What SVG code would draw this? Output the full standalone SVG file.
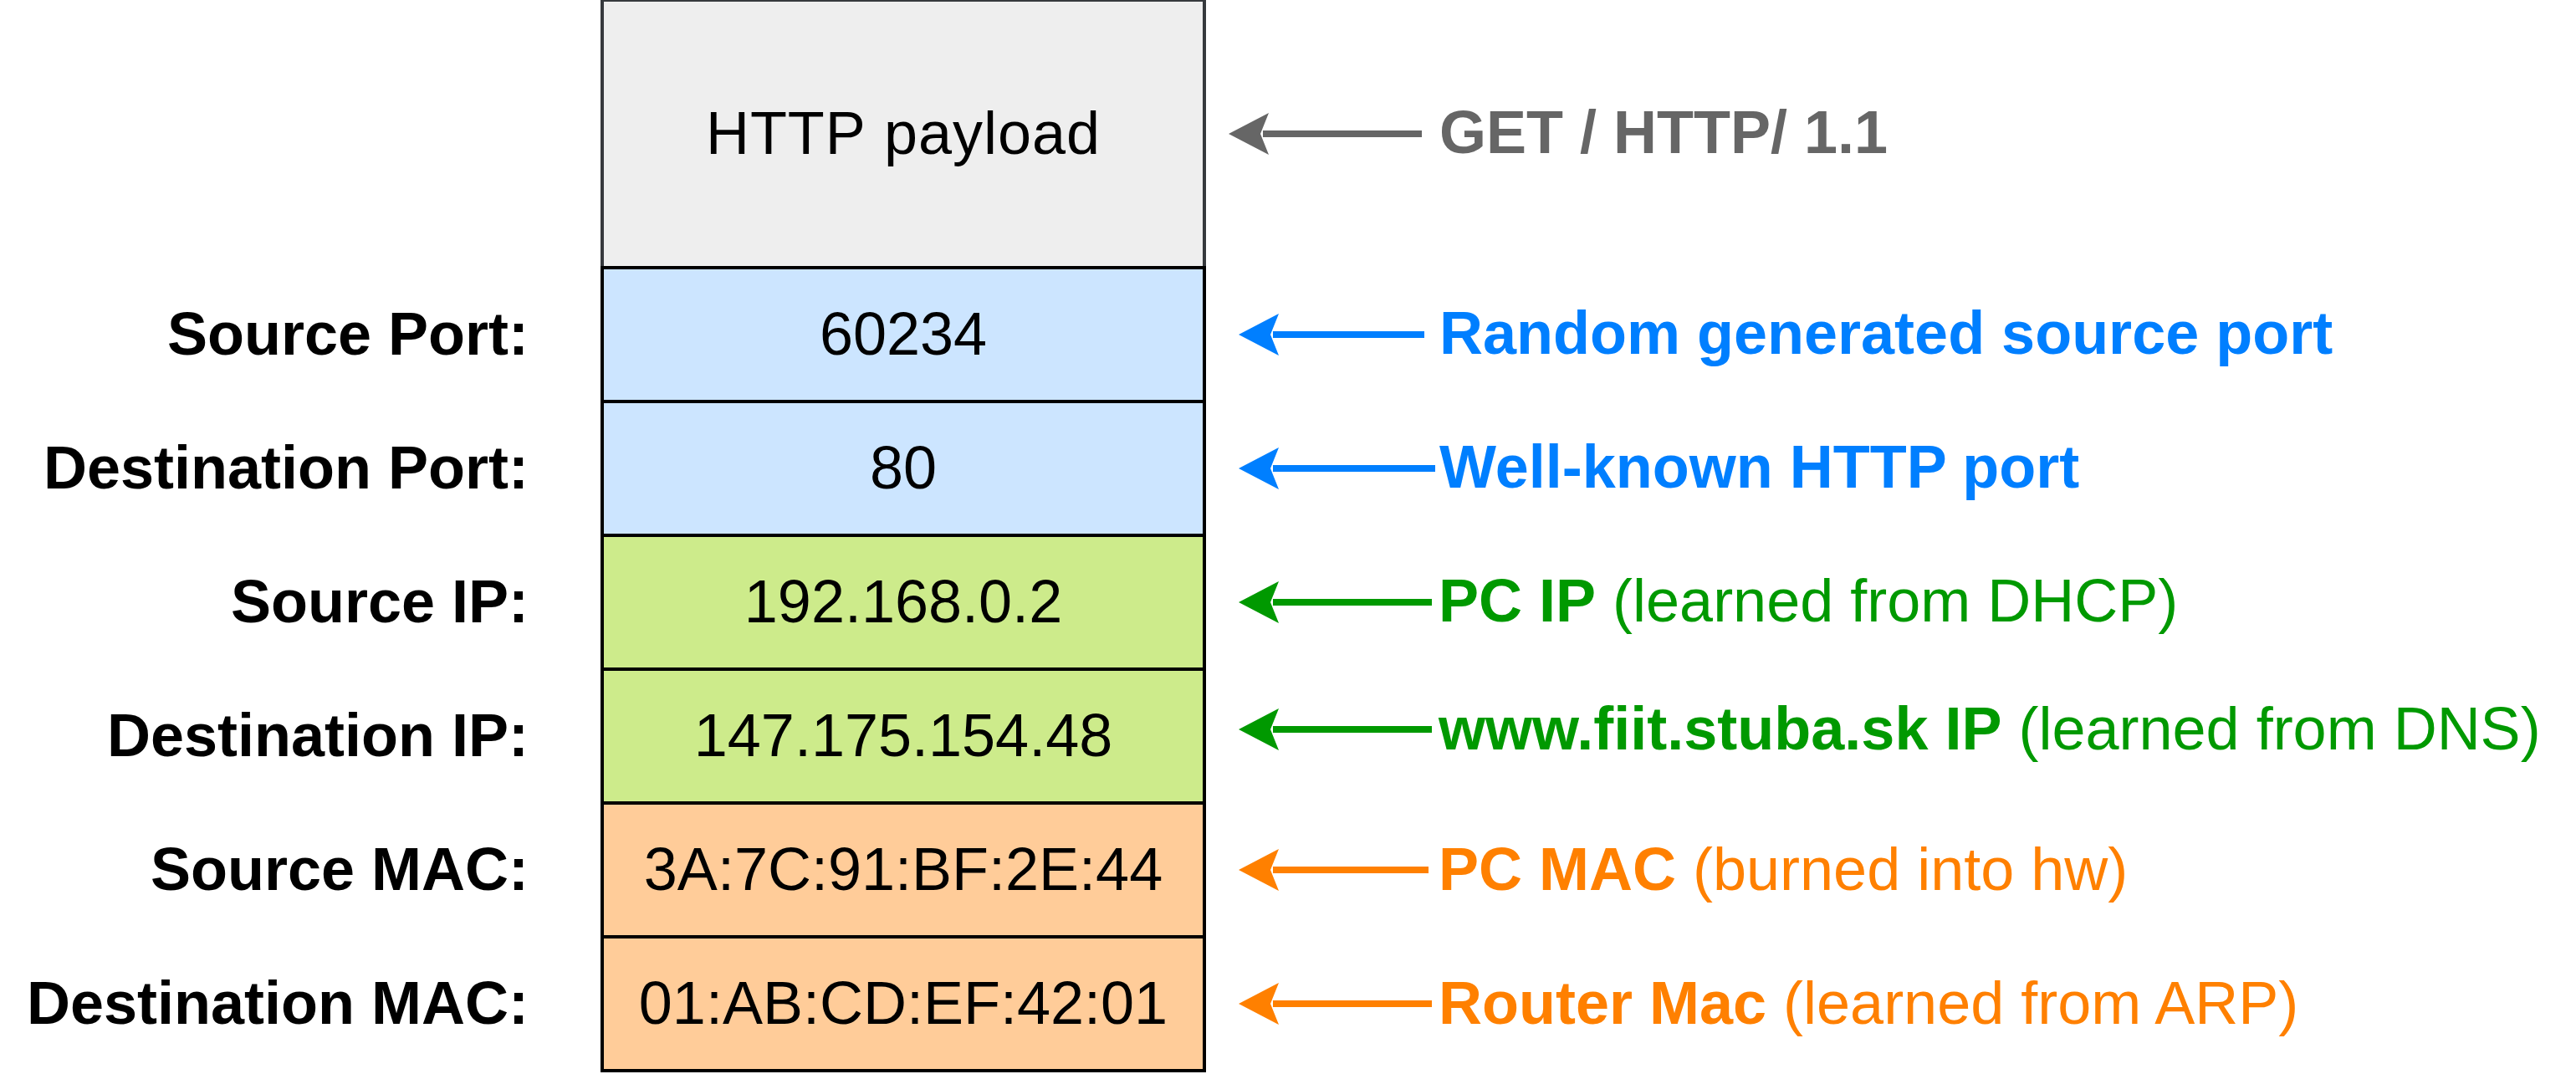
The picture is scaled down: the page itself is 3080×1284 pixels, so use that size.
<svg xmlns="http://www.w3.org/2000/svg" width="3080" height="1284" viewBox="0 0 3080 1284">
<style>
text{font-family:"Liberation Sans",Arial,Helvetica,sans-serif;font-size:72px}
.cell{stroke:#000;stroke-width:4}
.val{text-anchor:middle;fill:#000}
.lbl{text-anchor:end;font-weight:bold;fill:#000}
.b{font-weight:bold}
.grey{fill:#666666}.blue{fill:#007FFF}.green{fill:#009900}.orange{fill:#FF8000}
.lg{stroke:#666666}.lb{stroke:#007FFF}.lgr{stroke:#009900}.lo{stroke:#FF8000}
.conn line{stroke-width:8}
</style>
<rect width="3080" height="1284" fill="#ffffff"/>

<g id="payload">
<rect x="720" y="0" width="720" height="320" fill="#eeeeee" stroke="#36393d" stroke-width="4"/>
<text class="val" x="1080" y="184" style="font-kerning:none;letter-spacing:1px">HTTP payload</text>
</g>
<g id="src-port">
<rect class="cell" x="720" y="320" width="720" height="160" fill="#cce5ff"/>
<text class="val" x="1080" y="424">60234</text>
</g>
<g id="dst-port">
<rect class="cell" x="720" y="480" width="720" height="160" fill="#cce5ff"/>
<text class="val" x="1080" y="584">80</text>
</g>
<g id="src-ip">
<rect class="cell" x="720" y="640" width="720" height="160" fill="#cdeb8b"/>
<text class="val" x="1080" y="744">192.168.0.2</text>
</g>
<g id="dst-ip">
<rect class="cell" x="720" y="800" width="720" height="160" fill="#cdeb8b"/>
<text class="val" x="1080" y="904">147.175.154.48</text>
</g>
<g id="src-mac">
<rect class="cell" x="720" y="960" width="720" height="160" fill="#ffcc99"/>
<text class="val" x="1080" y="1064">3A:7C:91:BF:2E:44</text>
</g>
<g id="dst-mac">
<rect class="cell" x="720" y="1120" width="720" height="160" fill="#ffcc99"/>
<text class="val" x="1080" y="1224">01:AB:CD:EF:42:01</text>
</g>

<g id="labels">
<text class="lbl" x="632" y="424">Source Port:</text>
<text class="lbl" x="632" y="584">Destination Port:</text>
<text class="lbl" x="632" y="744">Source IP:</text>
<text class="lbl" x="632" y="904">Destination IP:</text>
<text class="lbl" x="632" y="1064">Source MAC:</text>
<text class="lbl" x="632" y="1224">Destination MAC:</text>
</g>

<g id="note-get"><text class="grey b" x="1721" y="183">GET / HTTP/ 1.1</text></g>
<g id="note-random"><text class="blue b" x="1721" y="423">Random generated source port</text></g>
<g id="note-wellknown"><text class="blue b" x="1721" y="583">Well-known HTTP port</text></g>
<g id="note-pcip"><text class="green" x="1720" y="743"><tspan class="b">PC IP</tspan> (learned from DHCP)</text></g>
<g id="note-dns"><text class="green" x="1720" y="896"><tspan class="b">www.fiit.stuba.sk IP</tspan> (learned from DNS)</text></g>
<g id="note-pcmac"><text class="orange" x="1720" y="1064"><tspan class="b">PC MAC</tspan> (burned into hw)</text></g>
<g id="note-router"><text class="orange" x="1720" y="1224"><tspan class="b">Router Mac</tspan> (learned from ARP)</text></g>

<g id="connectors" class="conn">
<line class="lg" x1="1700" y1="160" x2="1510" y2="160"/>
<polygon fill="#666666" points="1469,160 1517,135 1507,160 1517,185"/>
<line class="lb" x1="1703" y1="400" x2="1522" y2="400"/>
<polygon fill="#007FFF" points="1481,400 1529,375 1519,400 1529,425"/>
<line class="lb" x1="1716" y1="560" x2="1522" y2="560"/>
<polygon fill="#007FFF" points="1481,560 1529,535 1519,560 1529,585"/>
<line class="lgr" x1="1712" y1="720" x2="1522" y2="720"/>
<polygon fill="#009900" points="1481,720 1529,695 1519,720 1529,745"/>
<line class="lgr" x1="1712" y1="872" x2="1522" y2="872"/>
<polygon fill="#009900" points="1481,872 1529,847 1519,872 1529,897"/>
<line class="lo" x1="1708" y1="1040" x2="1522" y2="1040"/>
<polygon fill="#FF8000" points="1481,1040 1529,1015 1519,1040 1529,1065"/>
<line class="lo" x1="1712" y1="1200" x2="1522" y2="1200"/>
<polygon fill="#FF8000" points="1481,1200 1529,1175 1519,1200 1529,1225"/>
</g>
</svg>
